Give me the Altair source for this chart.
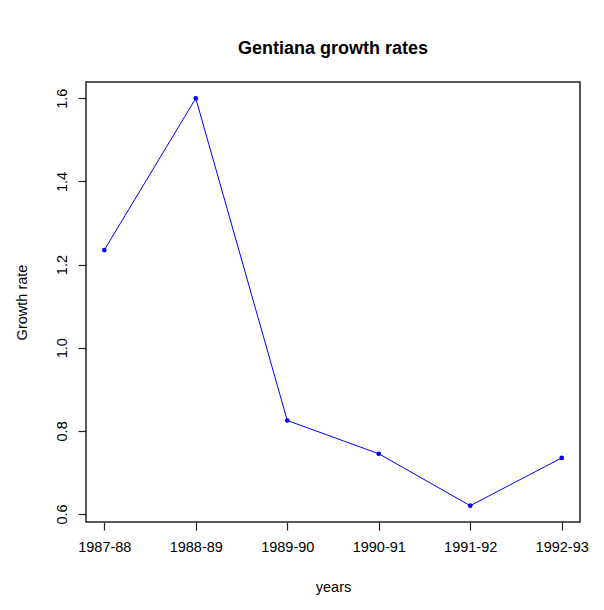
import altair as alt
import pandas as pd

years = ["1987-88", "1988-89", "1989-90", "1990-91", "1991-92", "1992-93"]
rates = [1.235, 1.60, 0.825, 0.745, 0.62, 0.735]

df = pd.DataFrame({"year": years, "rate": rates})

FONT = "Liberation Sans"

x = alt.X(
    "year:O",
    sort=years,
    scale=alt.Scale(type="point", padding=0.2),
    axis=alt.Axis(
        title="years",
        labelAngle=0,
        labelFontSize=14.5,
        labelFont=FONT,
        labelColor="black",
        labelPadding=10,
        tickColor="#222222",
        tickSize=8,
        tickWidth=1.2,
        domain=False,
        titleFont=FONT,
        titleFontSize=14.5,
        titleFontWeight="normal",
        titleColor="black",
        titleY=65,
        titleBaseline="middle",
    ),
)
y = alt.Y(
    "rate:Q",
    scale=alt.Scale(domain=[0.5808, 1.6392], nice=False, zero=False),
    axis=alt.Axis(
        title="Growth rate",
        values=[0.6, 0.8, 1.0, 1.2, 1.4, 1.6],
        format=".1f",
        labelAngle=-90,
        labelAlign="center",
        labelBaseline="bottom",
        labelFontSize=14.5,
        labelFont=FONT,
        labelColor="black",
        labelPadding=9,
        tickColor="#222222",
        tickSize=8,
        tickWidth=1.2,
        domain=False,
        grid=False,
        titleFont=FONT,
        titleFontSize=14.5,
        titleFontWeight="normal",
        titleColor="black",
        titleX=-64,
        titleBaseline="middle",
    ),
)

base = alt.Chart(df)
line = base.mark_line(color="blue", strokeWidth=1).encode(x=x, y=y)
pts = base.mark_circle(color="blue", size=22, opacity=1).encode(x=x, y=y)

chart = (
    alt.layer(line, pts)
    .properties(
        width=494,
        height=440,
        background="white",
        title=alt.TitleParams(
            "Gentiana growth rates",
            font=FONT,
            fontSize=18,
            fontWeight="bold",
            color="black",
            anchor="middle",
            offset=24,
        ),
        autosize=alt.AutoSizeParams(type="none"),
        padding={"left": 78, "top": 74, "right": 10, "bottom": 80},
    )
    .configure_view(stroke="#222222", strokeWidth=1.5, strokeOpacity=1)
)

chart.save("out.html", embed_options={"renderer": "svg", "actions": False})
